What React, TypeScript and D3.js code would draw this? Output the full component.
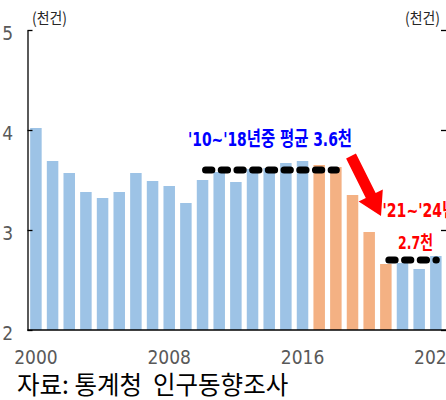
import { useRef, useEffect } from 'react';
import * as d3 from 'd3';

// 연도별 건수 (천건)
const years = [
  '2000', '2001', '2002', '2003', '2004', '2005', '2006', '2007', '2008', '2009',
  '2010', '2011', '2012', '2013', '2014', '2015', '2016', '2017', '2018', '2019',
  '2020', '2021', '2022', '2023', '2024',
];
const counts = [
  4.02, 3.69, 3.57, 3.38, 3.32, 3.38, 3.57, 3.49, 3.44, 3.27,
  3.50, 3.58, 3.48, 3.61, 3.62, 3.67, 3.69, 3.65, 3.63, 3.35,
  2.98, 2.66, 2.67, 2.61, 2.74,
];
const highlightYears = ['2017', '2018', '2019', '2020', '2021'];
const xTickLabels = ['2000', '2008', '2016', '2024'];
const yTicks = [2, 3, 4, 5];
const unitLabel = '(천건)';
const sourceLabel = '자료: 통계청  인구동향조사';

// 평균선: [시작연도, 끝연도, 값]
const avgLines = [
  { from: '2010', to: '2018', value: 3.6 },
  { from: '2021', to: '2024', value: 2.7 },
];
const avgLabel1 = "'10~'18년중 평균 3.6천";
const avgLabel2a = "'21~'24년";
const avgLabel2b = '2.7천';
// 화살표 (연도 인덱스, 값)
const arrowFrom = { i: 18.91, v: 3.74 };
const arrowTo = { i: 20.71, v: 3.14 };

const WIDTH = 446;
const HEIGHT = 400;

const App = () => {
  const ref = useRef<SVGSVGElement>(null);

  useEffect(() => {
    const svg = d3.select(ref.current);
    svg.selectAll('*').remove();

    const tickFont = "'Liberation Sans Narrow', 'DejaVu Sans Condensed', sans-serif";
    const AXIS_X = 27.5;
    const AXIS_BOTTOM = 330;

    const x = d3.scaleBand()
      .domain(years)
      .range([AXIS_X, AXIS_X + 25 * 16.67])
      .paddingInner(0.31)
      .paddingOuter(0.16);

    const y = d3.scaleLinear()
      .domain([2, 5])
      .range([AXIS_BOTTOM, 30]);

    const xIdx = (i: number) => (x(years[0]) as number) + i * x.step() + x.bandwidth() / 2;
    const xMid = (yr: string) => (x(yr) as number) + x.bandwidth() / 2;

    // bars
    svg.append('g')
      .selectAll('rect')
      .data(years)
      .join('rect')
      .attr('x', d => x(d) as number)
      .attr('y', (d, i) => y(counts[i]))
      .attr('width', x.bandwidth())
      .attr('height', (d, i) => AXIS_BOTTOM - y(counts[i]))
      .attr('fill', d => highlightYears.includes(d) ? '#F4B183' : '#9DC3E6');

    // left axis
    const yAxis = svg.append('g')
      .attr('transform', `translate(${AXIS_X}, 0)`)
      .call(d3.axisLeft(y).tickValues(yTicks).tickSize(-5).tickSizeOuter(0).tickFormat(d3.format('d')));
    yAxis.select('.domain').attr('stroke', '#000').attr('stroke-width', 1.3);
    yAxis.selectAll('.tick line').attr('stroke', '#000').attr('stroke-width', 1.3);
    yAxis.selectAll('.tick text')
      .attr('x', -14.5)
      .attr('dy', 9.3)
      .attr('fill', '#595959')
      .attr('font-size', 19)
      .attr('font-family', tickFont);

    // right axis (mostly outside)
    const yAxisR = svg.append('g')
      .attr('transform', `translate(447, 0)`)
      .call(d3.axisLeft(y).tickValues(yTicks).tickSize(6).tickFormat(() => ''));
    yAxisR.selectAll('.tick line').attr('stroke', '#000').attr('stroke-width', 1.3);

    // bottom axis
    svg.append('line')
      .attr('x1', AXIS_X)
      .attr('x2', WIDTH)
      .attr('y1', AXIS_BOTTOM)
      .attr('y2', AXIS_BOTTOM)
      .attr('stroke', '#000')
      .attr('stroke-width', 1.3);

    svg.append('g')
      .selectAll('text')
      .data(xTickLabels)
      .join('text')
      .attr('x', d => xMid(d))
      .attr('y', 364)
      .attr('text-anchor', 'middle')
      .attr('fill', '#595959')
      .attr('font-size', 19)
      .attr('font-family', tickFont)
      .text(d => d);

    // units
    [32, 405].forEach(ux => {
      svg.append('text')
        .attr('x', ux)
        .attr('y', 24)
        .attr('font-size', 15.5)
        .attr('fill', '#262626')
        .attr('font-family', "'Noto Sans CJK KR', sans-serif")
        .attr('textLength', 35)
        .attr('lengthAdjust', 'spacingAndGlyphs')
        .text(unitLabel);
    });

    // average dashed lines
    svg.append('g')
      .selectAll('line')
      .data(avgLines)
      .join('line')
      .attr('x1', d => xMid(d.from) + 3)
      .attr('x2', d => xMid(d.to) + 0.5)
      .attr('y1', d => y(d.value))
      .attr('y2', d => y(d.value))
      .attr('stroke', '#000')
      .attr('stroke-width', 7)
      .attr('stroke-linecap', 'round')
      .attr('stroke-dasharray', '6.3 9.4');

    // arrow
    const x0 = xIdx(arrowFrom.i), y0 = y(arrowFrom.v);
    const x1 = xIdx(arrowTo.i), y1 = y(arrowTo.v);
    const len = Math.hypot(x1 - x0, y1 - y0);
    const ux = (x1 - x0) / len, uy = (y1 - y0) / len;
    const px = -uy, py = ux;
    const shaftW = 11, headW = 27, headL = 23;
    const bx = x1 - ux * headL, by = y1 - uy * headL;
    const pts: [number, number][] = [
      [x0 + px * shaftW / 2, y0 + py * shaftW / 2],
      [bx + px * shaftW / 2, by + py * shaftW / 2],
      [bx + px * headW / 2, by + py * headW / 2],
      [x1, y1],
      [bx - px * headW / 2, by - py * headW / 2],
      [bx - px * shaftW / 2, by - py * shaftW / 2],
      [x0 - px * shaftW / 2, y0 - py * shaftW / 2],
    ];
    svg.append('path')
      .attr('d', d3.line()(pts) + 'Z')
      .attr('fill', '#FF0000');

    // annotations
    const annFont = "'Liberation Sans Narrow', 'DejaVu Sans Condensed', 'Noto Sans CJK KR', sans-serif";
    const annotations = [
      { text: avgLabel1, x: 188, y: 146, color: '#0000FF', len: 164, size: 20 },
      { text: avgLabel2a, x: 382.5, y: 217, color: '#FF0000', len: 74, size: 20 },
      { text: avgLabel2b, x: 398, y: 249, color: '#FF0000', len: 35, size: 18.5 },
    ];
    svg.append('g')
      .selectAll('text')
      .data(annotations)
      .join('text')
      .attr('x', d => d.x)
      .attr('y', d => d.y)
      .attr('font-size', d => d.size)
      .attr('font-weight', 'bold')
      .attr('fill', d => d.color)
      .attr('font-family', annFont)
      .attr('textLength', d => d.len)
      .attr('lengthAdjust', 'spacingAndGlyphs')
      .text(d => d.text);

    // source
    svg.append('text')
      .attr('x', 17)
      .attr('y', 394)
      .attr('font-size', 24.5)
      .attr('fill', '#000')
      .attr('font-family', "'Noto Sans CJK KR', sans-serif")
      .style('white-space', 'pre')
      .text(sourceLabel);
  }, []);

  return (
    <svg
      ref={ref}
      width={WIDTH}
      height={HEIGHT}
      style={{ position: 'absolute', left: 0, top: 0, background: '#fff' }}
    />
  );
};

export default App;
